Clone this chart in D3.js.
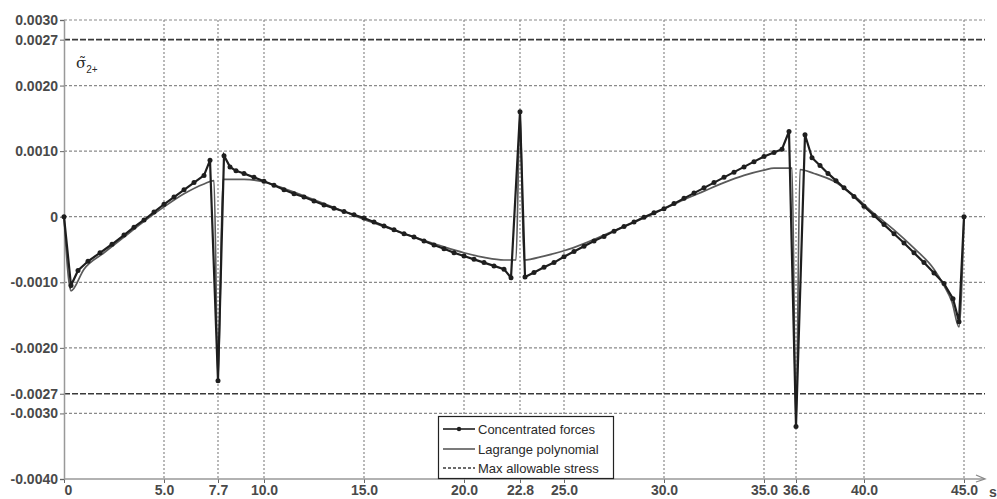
<!DOCTYPE html>
<html>
<head>
<meta charset="utf-8">
<script src="https://cdn.jsdelivr.net/npm/d3@7"></script>
<style>
  html, body { margin: 0; padding: 0; background: #fff; }
  svg { display: block; font-family: "Liberation Sans", Arial, sans-serif; }
</style>
</head>
<body>
<svg id="chart" width="997" height="499"></svg>
<script>
// ---- Data ----
const forceS = [0, 0.35, 0.7, 1.2, 1.8, 2.4, 3.0, 3.5, 4.0, 4.5, 5.0, 5.5, 6.0, 6.5, 7.0, 7.3, 7.7, 8.0, 8.3, 8.6, 9.0, 9.5, 10.0, 10.5, 11.0, 11.5, 12.0, 12.5, 13.0, 13.5, 14.0, 14.5, 15.0, 15.5, 16.0, 16.5, 17.0, 17.5, 18.0, 18.5, 19.0, 19.5, 20.0, 20.5, 21.0, 21.5, 22.0, 22.35, 22.8, 23.05, 23.5, 24.0, 24.5, 25.0, 25.5, 26.0, 26.5, 27.0, 27.5, 28.0, 28.5, 29.0, 29.5, 30.0, 30.5, 31.0, 31.5, 32.0, 32.5, 33.0, 33.5, 34.0, 34.5, 35.0, 35.5, 35.9, 36.25, 36.6, 37.05, 37.4, 37.8, 38.2, 38.6, 39.0, 39.5, 40.0, 40.5, 41.0, 41.5, 42.0, 42.5, 43.0, 43.5, 44.0, 44.45, 44.75, 45.0];
const forceV = [0, -0.00105, -0.00082, -0.00068, -0.00055, -0.00042, -0.00028, -0.00016, -0.00005, 0.00007, 0.00019, 0.0003, 0.00041, 0.00052, 0.00063, 0.00086, -0.0025, 0.00093, 0.00076, 0.0007, 0.00066, 0.0006, 0.00054, 0.00048, 0.00041, 0.00035, 0.0003, 0.00024, 0.00018, 0.00013, 0.00008, 0.00003, -0.00002, -0.00008, -0.00014, -0.0002, -0.00026, -0.00031, -0.00037, -0.00043, -0.00049, -0.00055, -0.0006, -0.00065, -0.0007, -0.00075, -0.0008, -0.00093, 0.0016, -0.00092, -0.00085, -0.00077, -0.0007, -0.00061, -0.00053, -0.00045, -0.00037, -0.0003, -0.00022, -0.00015, -0.00008, -0.00001, 0.00006, 0.00012, 0.0002, 0.00028, 0.00036, 0.00044, 0.00052, 0.0006, 0.00068, 0.00076, 0.00084, 0.00092, 0.00098, 0.00103, 0.0013, -0.0032, 0.00125, 0.0009, 0.00078, 0.00066, 0.00055, 0.00044, 0.00031, 0.00016, 0.00002, -0.00012, -0.00026, -0.0004, -0.00055, -0.0007, -0.00086, -0.00102, -0.00125, -0.0016, 0];

const lagS = [0, 0.35, 1.0, 2.0, 3.0, 4.0, 5.0, 6.0, 7.0, 7.5, 7.7, 7.95, 9.0, 10.0, 11.0, 12.0, 13.0, 14.0, 15.0, 16.0, 17.0, 18.0, 19.0, 20.0, 21.0, 22.0, 22.6, 22.8, 23.0, 24.0, 25.0, 26.0, 27.0, 28.0, 29.0, 30.0, 31.0, 32.0, 33.0, 34.0, 35.0, 35.5, 36.4, 36.6, 36.8, 37.5, 38.5, 39.5, 40.5, 41.5, 42.5, 43.5, 44.0, 44.4, 44.75, 45.0];
const lagV = [0, -0.00113, -0.0008, -0.00055, -0.00031, -0.00007, 0.00015, 0.00035, 0.0005, 0.00055, -0.0025, 0.00057, 0.00057, 0.00053, 0.00043, 0.00032, 0.0002, 0.00008, -0.00004, -0.00015, -0.00026, -0.00036, -0.00046, -0.00055, -0.00062, -0.00066, -0.00066, 0.0016, -0.00066, -0.0006, -0.00052, -0.00041, -0.00028, -0.00015, -0.00002, 0.00012, 0.00026, 0.00039, 0.00052, 0.00063, 0.00071, 0.00074, 0.00074, -0.0032, 0.00072, 0.00066, 0.00054, 0.00032, 0.00005, -0.0002, -0.00048, -0.0008, -0.00105, -0.0013, -0.00168, 0];

const maxAllowable = [0.0027, -0.0027];
const xTicks = [0, 5.0, 7.7, 10.0, 15.0, 20.0, 22.8, 25.0, 30.0, 35.0, 36.6, 40.0, 45.0];
const xTickLabels = ["0", "5.0", "7.7", "10.0", "15.0", "20.0", "22.8", "25.0", "30.0", "35.0", "36.6", "40.0", "45.0"];
const yGrid = [0.003, 0.002, 0.001, 0, -0.001, -0.002, -0.003];
const yTicks = [0.003, 0.0027, 0.002, 0.001, 0, -0.001, -0.002, -0.0027, -0.003, -0.004];
const yTickLabels = ["0.0030", "0.0027", "0.0020", "0.0010", "0", "-0.0010", "-0.0020", "-0.0027", "-0.0030", "-0.0040"];
const legendLabels = ["Concentrated forces", "Lagrange polynomial", "Max allowable stress"];

// ---- Layout ----
const svg = d3.select("#chart");
const padL = 64, padR = 964, padT = 20, padB = 479, gridRight = 985;
const x = d3.scaleLinear().domain([0, 45]).range([padL, padR]);
const y = d3.scaleLinear().domain([-0.004, 0.003]).range([padB, padT]);
const textColor = "#2a2a2a";

// gridlines
const grid = svg.append("g");
grid.selectAll("line.h").data(yGrid).join("line")
  .attr("x1", padL).attr("x2", gridRight)
  .attr("y1", d => y(d)).attr("y2", d => y(d))
  .attr("stroke", "#8a8a8a").attr("stroke-width", 1.2).attr("stroke-dasharray", "3,2");
grid.selectAll("line.v").data(xTicks.slice(1)).join("line")
  .attr("x1", d => x(d)).attr("x2", d => x(d))
  .attr("y1", padT).attr("y2", padB)
  .attr("stroke", "#8a8a8a").attr("stroke-width", 1.2).attr("stroke-dasharray", "2,2");

// max allowable stress lines
svg.append("g").selectAll("line").data(maxAllowable).join("line")
  .attr("x1", padL).attr("x2", gridRight)
  .attr("y1", d => y(d)).attr("y2", d => y(d))
  .attr("stroke", "#3a3a3a").attr("stroke-width", 1.6).attr("stroke-dasharray", "6,2");

// axes
const yAxis = d3.axisLeft(y).tickValues(yTicks).tickFormat((d, i) => yTickLabels[i]).tickSize(4).tickPadding(2);
const gy = svg.append("g").attr("transform", `translate(${padL},0)`).call(yAxis);
gy.select(".domain").attr("stroke", "#999").attr("stroke-width", 1.5);
gy.selectAll(".tick line").attr("stroke", "#666");
gy.selectAll(".tick text").attr("fill", textColor).attr("font-size", 14)
  .attr("font-family", "'Liberation Sans', Arial, sans-serif").attr("font-weight", "bold").attr("opacity", 0.85);

const xAxis = d3.axisBottom(x).tickValues(xTicks).tickFormat((d, i) => xTickLabels[i]).tickSize(4).tickPadding(2);
const gx = svg.append("g").attr("transform", `translate(0,${padB})`).call(xAxis);
gx.select(".domain").remove();
gx.selectAll(".tick line").attr("stroke", "#666");
gx.selectAll(".tick text").attr("fill", textColor).attr("font-size", 14)
  .attr("font-family", "'Liberation Sans', Arial, sans-serif").attr("font-weight", "bold").attr("opacity", 0.85);
gx.selectAll(".tick").filter(d => d === 0).select("text").attr("dx", 4);

// x-axis line with arrow
svg.append("line").attr("x1", padL).attr("x2", 984).attr("y1", padB).attr("y2", padB)
  .attr("stroke", "#999").attr("stroke-width", 1.5);
svg.append("path").attr("d", `M976,${padB - 4} L985,${padB} L976,${padB + 3}`)
  .attr("fill", "none").attr("stroke", "#888").attr("stroke-width", 1.3);
svg.append("text").attr("x", 989).attr("y", 497).attr("font-size", 14).attr("font-weight", "bold")
  .attr("fill", textColor).attr("opacity", 0.85).text("s");

// y label σ̃2+
const yl = svg.append("text").attr("x", 76).attr("y", 68).attr("fill", textColor).attr("font-size", 15)
  .attr("font-family", "'DejaVu Serif', serif");
yl.append("tspan").text("σ\u0303");
yl.append("tspan").attr("font-size", 10).attr("dy", 5).attr("font-family", "'Liberation Sans', Arial, sans-serif").text("2+");

// series
const lagData = lagS.map((s, i) => [s, lagV[i]]);
const forceData = forceS.map((s, i) => [s, forceV[i]]);

svg.append("path").datum(lagData)
  .attr("fill", "none").attr("stroke", "#5a5a5a").attr("stroke-width", 1.7)
  .attr("d", d3.line().x(d => x(d[0])).y(d => y(d[1])).curve(d3.curveMonotoneX));

svg.append("path").datum(forceData)
  .attr("fill", "none").attr("stroke", "#1e1e1e").attr("stroke-width", 2.2)
  .attr("d", d3.line().x(d => x(d[0])).y(d => y(d[1])));

svg.append("g").selectAll("circle").data(forceData).join("circle")
  .attr("cx", d => x(d[0])).attr("cy", d => y(d[1])).attr("r", 2.5).attr("fill", "#1e1e1e");

// legend
const lg = svg.append("g");
lg.append("rect").attr("x", 438.5).attr("y", 416.5).attr("width", 175).attr("height", 62)
  .attr("fill", "#fff").attr("stroke", "#222").attr("stroke-width", 1.2);
const rows = [429, 449, 468];
lg.selectAll("text").data(legendLabels).join("text")
  .attr("x", 478).attr("y", (d, i) => rows[i]).attr("dy", "0.35em")
  .attr("font-size", 13).attr("fill", textColor).text(d => d);
lg.append("line").attr("x1", 443).attr("x2", 475).attr("y1", rows[0]).attr("y2", rows[0])
  .attr("stroke", "#1e1e1e").attr("stroke-width", 1.6);
lg.append("circle").attr("cx", 459).attr("cy", rows[0]).attr("r", 2.2).attr("fill", "#1e1e1e");
lg.append("line").attr("x1", 443).attr("x2", 475).attr("y1", rows[1]).attr("y2", rows[1])
  .attr("stroke", "#5a5a5a").attr("stroke-width", 1.6);
lg.append("line").attr("x1", 443).attr("x2", 475).attr("y1", rows[2]).attr("y2", rows[2])
  .attr("stroke", "#3a3a3a").attr("stroke-width", 1.4).attr("stroke-dasharray", "3,2");
</script>
</body>
</html>
